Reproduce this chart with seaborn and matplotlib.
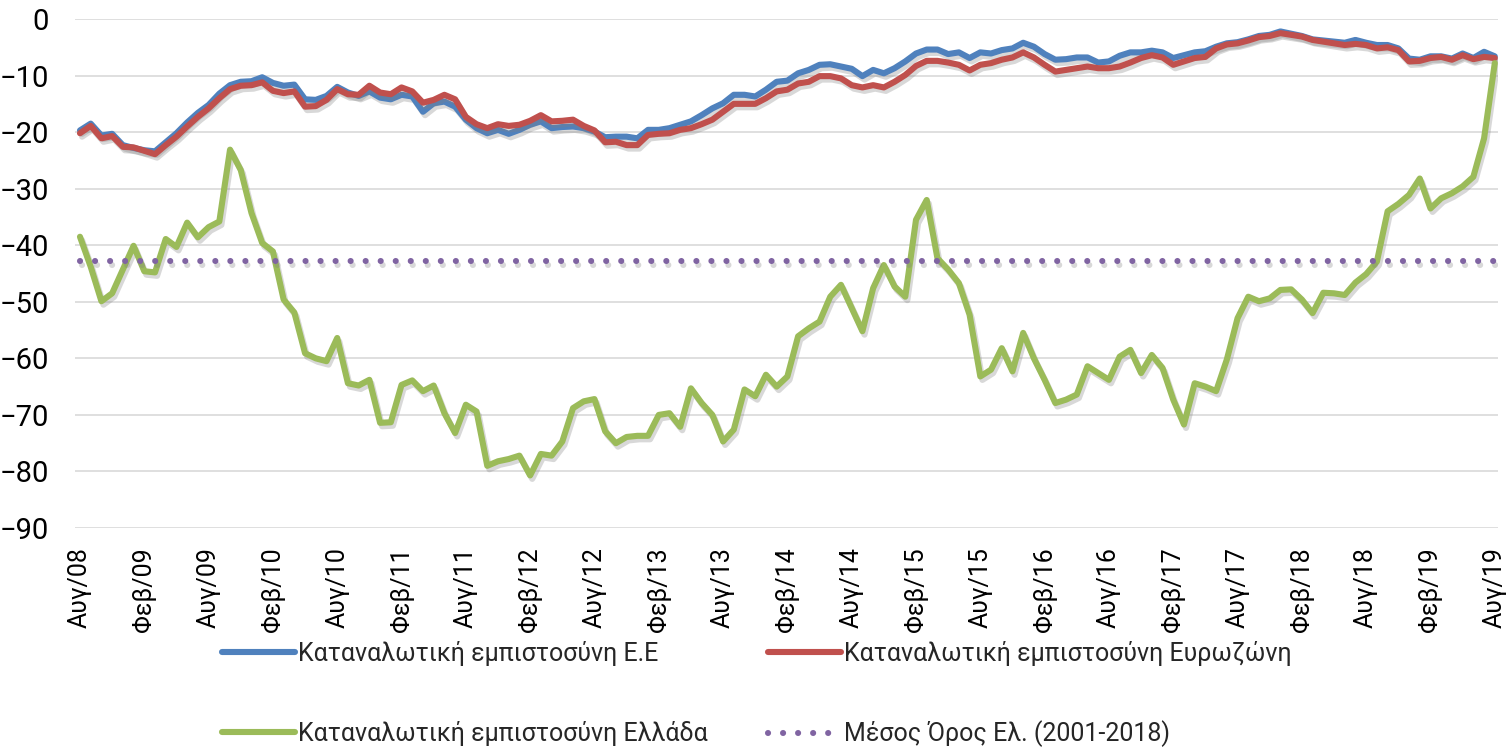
import numpy as np
import pandas as pd
import matplotlib
matplotlib.use("Agg")
import matplotlib.pyplot as plt
import matplotlib.patheffects as pe
import seaborn as sns

# Μηνιαίες τιμές, Αύγουστος 2008 - Αύγουστος 2019 (133 μήνες)
eu_conf = [
    -19.7, -18.5, -20.6, -20.3, -22.3, -22.8, -23.2, -23.4, -21.8, -20.2,
    -18.3, -16.6, -15.2, -13.2, -11.7, -11.1, -11.0, -10.3, -11.3, -11.8,
    -11.6, -14.2, -14.3, -13.6, -12.0, -13.0, -13.6, -12.8, -13.9, -14.2,
    -13.4, -13.7, -16.4, -14.9, -14.6, -15.5, -17.8, -19.3, -20.2, -19.6,
    -20.3, -19.6, -18.7, -18.1, -19.3, -19.1, -19.0, -19.3, -19.9, -20.9,
    -20.8, -20.8, -21.1, -19.6, -19.6, -19.3, -18.7, -18.1, -17.0, -15.8,
    -14.9, -13.4, -13.4, -13.7, -12.5, -11.1, -10.9, -9.6, -9.0, -8.1,
    -8.0, -8.4, -8.8, -10.1, -9.0, -9.6, -8.7, -7.5, -6.1, -5.4,
    -5.4, -6.2, -5.9, -6.9, -5.9, -6.1, -5.5, -5.2, -4.2, -4.9,
    -6.2, -7.2, -7.1, -6.8, -6.8, -7.7, -7.5, -6.5, -5.9, -5.9,
    -5.6, -5.9, -6.9, -6.4, -5.9, -5.7, -4.9, -4.3, -4.1, -3.6,
    -3.0, -2.8, -2.2, -2.6, -3.0, -3.6, -3.8, -4.0, -4.2, -3.7,
    -4.2, -4.6, -4.6, -5.2, -7.0, -7.2, -6.6, -6.6, -7.0, -6.1,
    -6.9, -5.8, -6.6,
]

ez_conf = [
    -20.2, -18.9, -21.1, -20.7, -22.6, -22.7, -23.3, -23.9, -22.3, -20.8,
    -19.0, -17.3, -15.8, -14.0, -12.4, -11.8, -11.7, -11.2, -12.7, -13.1,
    -12.8, -15.5, -15.4, -14.3, -12.4, -13.3, -13.4, -11.8, -13.0, -13.3,
    -12.1, -12.8, -14.8, -14.3, -13.4, -14.2, -17.3, -18.6, -19.3, -18.6,
    -18.9, -18.7, -18.0, -17.0, -18.1, -18.0, -17.8, -18.9, -19.7, -21.8,
    -21.7, -22.3, -22.3, -20.5, -20.3, -20.2, -19.6, -19.3, -18.6, -17.8,
    -16.4, -15.0, -15.0, -15.0, -14.0, -12.8, -12.5, -11.4, -11.1, -10.1,
    -10.1, -10.5, -11.7, -12.1, -11.7, -12.1, -11.1, -9.9, -8.3, -7.4,
    -7.4, -7.7, -8.1, -9.1, -8.1, -7.8, -7.2, -6.8, -5.9, -6.8,
    -8.1, -9.3, -9.0, -8.7, -8.4, -8.7, -8.7, -8.4, -7.7, -6.9,
    -6.4, -6.8, -8.1, -7.5, -6.9, -6.7, -5.2, -4.5, -4.3, -3.8,
    -3.2, -3.0, -2.5, -2.8, -3.1, -3.7, -4.0, -4.3, -4.6, -4.4,
    -4.6, -5.2, -5.0, -5.5, -7.5, -7.4, -6.9, -6.7, -7.2, -6.4,
    -7.1, -6.7, -6.9,
]

gr_conf = [
    -38.5, -43.8, -49.9, -48.5, -44.3, -40.1, -44.6, -44.8, -38.9, -40.3,
    -36.0, -38.6, -36.8, -35.8, -23.1, -26.7, -34.3, -39.6, -41.1, -49.6,
    -51.9, -59.1, -60.0, -60.5, -56.4, -64.4, -64.8, -63.8, -71.4, -71.3,
    -64.7, -63.9, -65.8, -64.8, -69.7, -73.2, -68.2, -69.4, -79.0, -78.2,
    -77.8, -77.2, -80.7, -76.9, -77.2, -74.7, -68.8, -67.6, -67.2, -72.9,
    -75.0, -73.9, -73.7, -73.7, -70.0, -69.7, -72.1, -65.3, -67.9, -70.0,
    -74.7, -72.6, -65.5, -66.7, -62.9, -65.0, -63.2, -56.1, -54.7, -53.5,
    -49.1, -47.0, -51.1, -55.2, -47.6, -43.5, -47.3, -49.1, -35.5, -32.0,
    -42.3, -44.3, -46.7, -52.3, -63.2, -62.0, -58.2, -62.3, -55.5, -60.0,
    -63.8, -67.9, -67.3, -66.4, -61.4, -62.6, -63.8, -59.7, -58.5, -62.6,
    -59.4, -61.7, -67.3, -71.7, -64.4, -65.0, -65.8, -60.2, -52.9, -49.1,
    -49.9, -49.4, -47.9, -47.8, -49.6, -52.0, -48.4, -48.5, -48.8, -46.6,
    -45.1, -42.9, -34.0, -32.7, -31.1, -28.2, -33.5, -31.7, -30.8, -29.6,
    -27.9, -21.1, -7.8,
]

# Μέσος όρος Ελλάδας 2001-2018
gr_avg = -42.8

tick_labels = [
    "Αυγ/08", "Φεβ/09", "Αυγ/09", "Φεβ/10", "Αυγ/10", "Φεβ/11", "Αυγ/11",
    "Φεβ/12", "Αυγ/12", "Φεβ/13", "Αυγ/13", "Φεβ/14", "Αυγ/14", "Φεβ/15",
    "Αυγ/15", "Φεβ/16", "Αυγ/16", "Φεβ/17", "Αυγ/17", "Φεβ/18", "Αυγ/18",
    "Φεβ/19", "Αυγ/19",
]

labels = [
    "Καταναλωτική εμπιστοσύνη Ε.Ε",
    "Καταναλωτική εμπιστοσύνη Ευρωζώνη",
    "Καταναλωτική εμπιστοσύνη Ελλάδα",
    "Μέσος Όρος Ελ. (2001-2018)",
]
colors = ["#4F81BD", "#C0504D", "#9BBB59", "#8064A2"]

df = pd.DataFrame({
    "month": np.arange(len(gr_conf)),
    "eu": eu_conf,
    "ez": ez_conf,
    "gr": gr_conf,
})
df["avg"] = gr_avg

sns.set_style("white")
plt.rcParams["font.family"] = ["Roboto", "DejaVu Sans"]

fig = plt.figure(figsize=(15.11, 7.51), dpi=100)
ax = fig.add_axes([0.0496, 0.2969, 0.9418, 0.6778])

lw = 4.4
for col, c, lab in zip(["eu", "ez", "gr"], colors[:3], labels[:3]):
    sns.lineplot(data=df, x="month", y=col, color=c, linewidth=lw,
                 label=lab, ax=ax, legend=False)
sns.lineplot(data=df, x="month", y="avg", color=colors[3], linewidth=4.4,
             label=labels[3], ax=ax, legend=False)
avg_line = ax.lines[-1]
avg_line.set_linestyle((0, (0.01, 2.45)))
avg_line.set_dash_capstyle("round")
for ln in ax.lines[:3]:
    ln.set_solid_joinstyle("round")

ax.set_xlim(-0.47, 132.3)
ax.set_ylim(-90, 0)
ax.set_yticks(np.arange(-90, 1, 10))
ax.set_xticks(np.arange(0, len(gr_conf), 6))
ax.set_xticklabels(tick_labels, rotation=90)
ax.tick_params(axis="y", length=0, pad=19, labelsize=21, labelcolor="black")
ax.tick_params(axis="x", length=0, pad=14, labelsize=18, labelcolor="black")
ax.set_xlabel("")
ax.set_ylabel("")
ax.grid(axis="y", color="#D9D9D9", linewidth=1.2)
ax.grid(axis="x", visible=False)
for s in ax.spines.values():
    s.set_visible(False)

# legend fills column by column: reorder so rows read EU, Eurozone / Greece, avg
lines = list(ax.lines)
order = [0, 2, 1, 3]
fig.legend([lines[i] for i in order], [labels[i] for i in order],
           loc="center", bbox_to_anchor=(0.501, 0.076),
           ncol=2, frameon=False, fontsize=18, handlelength=2.9,
           handletextpad=0.15, columnspacing=2.4, labelspacing=2.2)

shadow = [pe.SimpleLineShadow(offset=(1.5, -2.5), shadow_color="#808080",
                              alpha=0.3), pe.Normal()]
for ln in ax.lines:
    ln.set_path_effects(shadow)

fig.savefig("out.png", dpi=100)
